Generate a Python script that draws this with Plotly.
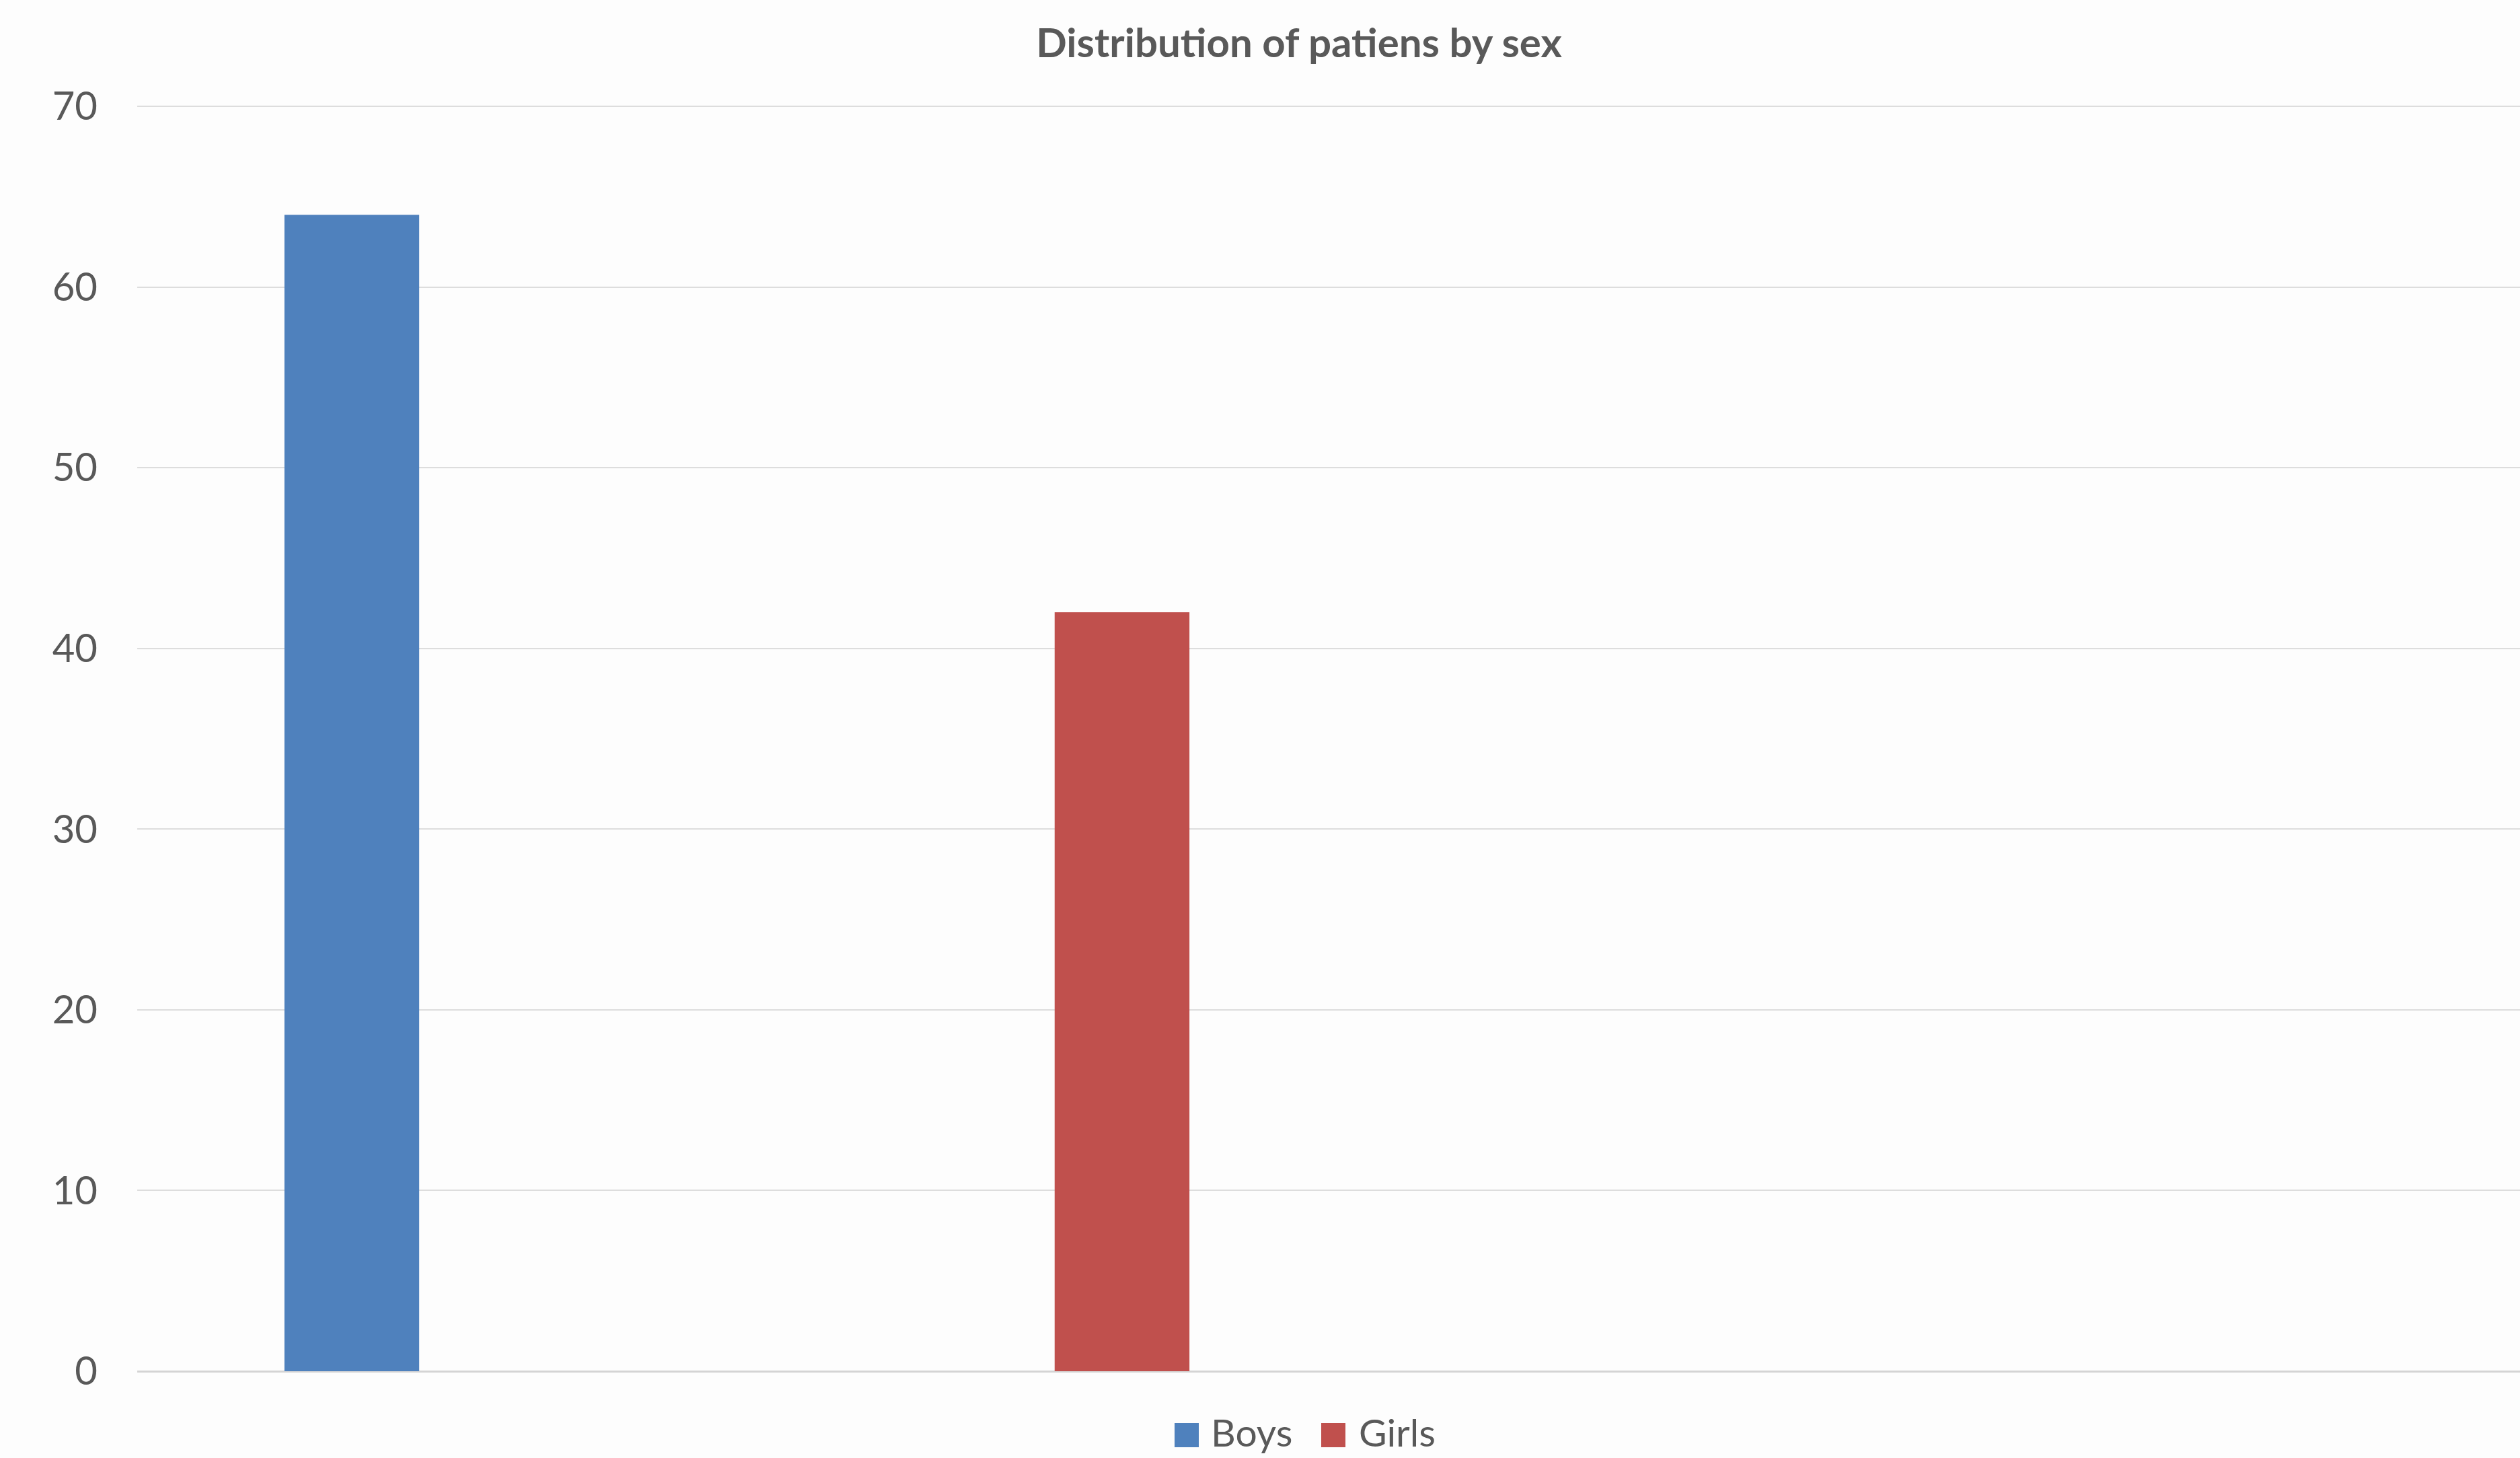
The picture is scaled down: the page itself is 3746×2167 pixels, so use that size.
import plotly.graph_objects as go

# Data
categories = ["Boys", "Girls"]
values = [64, 42]
colors = ["#4F81BD", "#C0504D"]
y_ticks = [0, 10, 20, 30, 40, 50, 60, 70]
title_text = "Distribution of patiens by sex"

W, H = 3746, 2167
L, R, T, B = 204, 0, 154, 129
PW, PH = W - L - R, H - T - B
font_family = "Lato, 'Open Sans', sans-serif"
text_color = "#595959"

fig = go.Figure()
for cat, val, col in zip(categories, values, colors):
    fig.add_trace(go.Bar(
        x=[cat], y=[val], name=cat,
        marker=dict(color=col, line=dict(width=0)),
        width=0.175, showlegend=False,
    ))

# Legend: square swatches + labels (pixel layout converted to paper coords)
def px_x(px):
    return (px - L) / PW

def px_y(py):
    return (H - B - py) / PH

legend_swatch_left = [1746, 1964]
legend_label_left = [1799, 2019]
sw = 36
ly = 2133
for cat, col, sx, tx in zip(categories, colors, legend_swatch_left, legend_label_left):
    fig.add_shape(
        type="rect", xref="paper", yref="paper",
        x0=px_x(sx), x1=px_x(sx + sw), y0=px_y(ly + sw / 2), y1=px_y(ly - sw / 2),
        fillcolor=col, line=dict(width=0),
    )
    fig.add_annotation(
        text=cat, xref="paper", yref="paper",
        x=px_x(tx), y=px_y(2128), xanchor="left", yanchor="middle",
        showarrow=False, borderpad=0,
        font=dict(family=font_family, size=57, color=text_color),
    )

fig.update_layout(
    width=W, height=H,
    margin=dict(l=L, r=R, t=T, b=B),
    paper_bgcolor="#FDFDFD", plot_bgcolor="#FDFDFD",
    barmode="overlay",
    title=dict(
        text=f"<b>{title_text}</b>",
        x=1931 / W, xref="container", xanchor="center",
        y=1 - 64 / H, yref="container", yanchor="middle",
        font=dict(family=font_family, size=60, color=text_color),
    ),
    xaxis=dict(
        type="category", categoryorder="array", categoryarray=categories,
        range=[-0.2786, 2.815], showticklabels=False, showgrid=False,
        zeroline=False, showline=False, ticks="",
    ),
    yaxis=dict(
        range=[0, 70.15], tickvals=y_ticks, ticktext=[str(v) for v in y_ticks],
        showgrid=True, gridcolor="#DDDDDD", gridwidth=2,
        zeroline=True, zerolinecolor="#D4D4D4", zerolinewidth=3,
        showline=False, ticks="", ticklabelstandoff=58,
        tickfont=dict(family=font_family, size=58, color=text_color),
    ),
)

fig.write_html("out.html")
